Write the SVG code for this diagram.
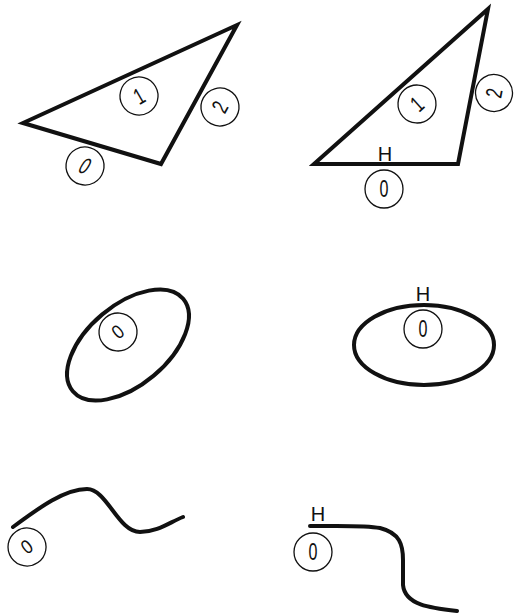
<svg xmlns="http://www.w3.org/2000/svg" width="514" height="613" viewBox="0 0 514 613">
<style>
.shape{fill:none;stroke:#111;stroke-width:4;stroke-linejoin:miter;stroke-linecap:round}
.lbl circle{fill:#fff;fill-opacity:0;stroke:#111;stroke-width:1.3}
.lbl text{font-family:"Liberation Sans",Arial,sans-serif;font-size:23px;fill:#111;text-anchor:middle}
.h{font-family:"Liberation Sans",Arial,sans-serif;font-size:20px;fill:#111;text-anchor:middle}
</style>
<rect width="514" height="613" fill="#fff"/>
<g id="triangle-left">
<polygon class="shape" points="23,123 237,25 161,164"/>
<g class="lbl" transform="translate(139,96) rotate(-30)"><circle r="19"/><text transform="scale(0.7,1)" y="8">1</text></g>
<g class="lbl" transform="translate(220,107) rotate(-61.3)"><circle r="19"/><text transform="scale(0.7,1)" y="8">2</text></g>
<g class="lbl" transform="translate(85,166) rotate(16.5)"><circle r="19"/><text transform="skewX(-15) scale(0.7,1)" y="8">0</text></g>
</g>
<g id="triangle-right">
<polygon class="shape" points="314,164 488,9 458,164"/>
<g class="lbl" transform="translate(417,104) rotate(-41.7)"><circle r="19"/><text transform="scale(0.7,1)" y="8">1</text></g>
<g class="lbl" transform="translate(494,93) rotate(-79)"><circle r="18.5"/><text transform="scale(0.7,1)" y="8">2</text></g>
<g class="lbl" transform="translate(384,189)"><circle r="19"/><text transform="scale(0.7,1)" y="8">0</text></g>
<text class="h" x="385" y="161">H</text>
</g>
<g id="ellipse-left">
<ellipse class="shape" cx="128" cy="345" rx="72" ry="40" transform="rotate(-40 128 345)"/>
<g class="lbl" transform="translate(118,332) rotate(-40)"><circle r="19"/><text transform="scale(0.75,0.85)" y="7.5">0</text></g>
</g>
<g id="ellipse-right">
<ellipse class="shape" cx="424" cy="345" rx="70" ry="40"/>
<g class="lbl" transform="translate(423,329)"><circle r="19"/><text transform="scale(0.7,1)" y="8">0</text></g>
<text class="h" x="423" y="301">H</text>
</g>
<g id="curve-left">
<path class="shape" d="M13,527 C40,507 65,489 87,489 C107,489 118,532 140,532 C158,532 170,522 183,517"/>
<g class="lbl" transform="translate(27,547) rotate(-35)"><circle r="19"/><text transform="scale(0.75,0.85)" y="7.5">0</text></g>
</g>
<g id="curve-right">
<path class="shape" d="M310,526 C340,526 365,525 380,528 C400,533 403,545 403,560 L403,585 C405,605 430,608 457,611"/>
<g class="lbl" transform="translate(313,552)"><circle r="19"/><text transform="scale(0.7,1)" y="8">0</text></g>
<text class="h" x="318" y="521">H</text>
</g>
<g id="connectors"/>
</svg>
